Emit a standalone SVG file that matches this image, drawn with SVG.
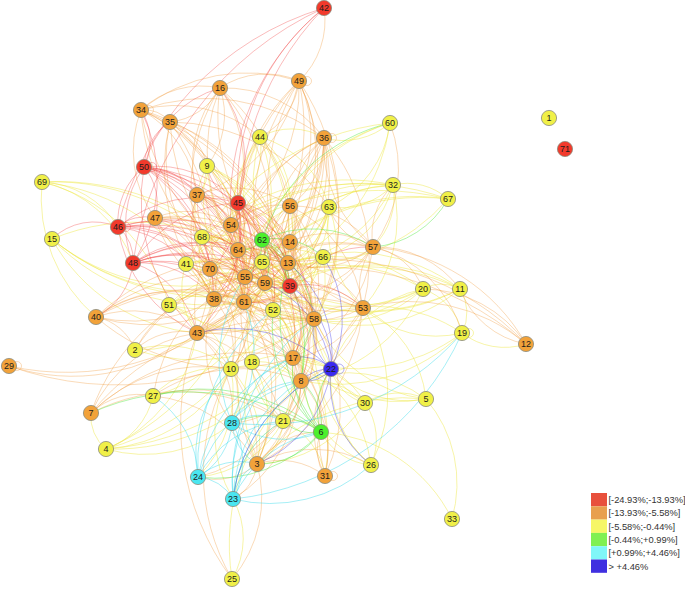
<svg xmlns="http://www.w3.org/2000/svg" width="685" height="589" viewBox="0 0 685 589">
<style>
.e path,.e circle{fill:none;stroke-width:1}
.y{stroke:#efe94a;stroke-opacity:.48}
.o{stroke:#f09c3c;stroke-opacity:.36}
.r{stroke:#f03838;stroke-opacity:.34}
.g{stroke:#48e838;stroke-opacity:.42}
.c{stroke:#3cdcec;stroke-opacity:.45}
.b{stroke:#3a30e8;stroke-opacity:.38}
.n circle{stroke:#8c8c7c;stroke-width:.8}
.n text{font-family:"Liberation Sans",Arial,sans-serif;font-size:9px;text-anchor:middle;fill:#1c1c1c}
.R circle{fill:#f23a2c}.O circle{fill:#f2a23a}.Y circle{fill:#f0f048}.G circle{fill:#4cf02c}.C circle{fill:#4ae6f0}.B circle{fill:#3a2af0}
.lg text{font-family:"Liberation Sans",Arial,sans-serif;font-size:9.3px;fill:#333}
</style>
<rect width="685" height="589" fill="#fff"/>
<g id="connectors" class="e">
<g class="y">
<path d="M42 182A123 123 0 0 1 133 263"/><path d="M42 182A94 94 0 0 1 118 227"/><path d="M42 182A176 176 0 0 1 169 305"/><path d="M42 182A241 241 0 0 1 245 277"/><path d="M96 317A157 157 0 0 1 42 182"/><path d="M42 182A219 219 0 0 1 214 299"/><path d="M42 182A263 263 0 0 1 265 283"/>
<path d="M245 277A208 208 0 0 1 52 239"/><path d="M265 283A231 231 0 0 1 52 239"/><path d="M290 286A257 257 0 0 1 52 239"/><path d="M52 239A219 219 0 0 1 262 262"/><path d="M197 333A183 183 0 0 1 52 239"/><path d="M244 302A217 217 0 0 1 52 239"/>
<path d="M207 166A33 33 0 0 1 197 195"/><path d="M207 166A96 96 0 0 1 238 250"/><path d="M207 166A96 96 0 0 1 262 240"/><path d="M207 166A118 118 0 0 1 262 262"/><path d="M207 166A129 129 0 0 1 288 263"/><path d="M210 269A104 104 0 0 1 207 166"/><path d="M207 166A126 126 0 0 1 245 277"/><path d="M244 302A151 151 0 0 1 207 166"/>
<path d="M260 137A75 75 0 0 1 238 203"/><path d="M238 250A122 122 0 0 1 260 137"/><path d="M260 137A146 146 0 0 1 245 277"/><path d="M265 283A148 148 0 0 1 260 137"/><path d="M260 137A137 137 0 0 1 288 263"/><path d="M260 137A81 81 0 0 1 290 206"/><path d="M260 137A98 98 0 0 1 329 207"/><path d="M290 286A161 161 0 0 1 260 137"/><path d="M260 137A178 178 0 0 1 273 310"/><path d="M260 137A64 64 0 0 1 324 138"/>
<path d="M390 123A72 72 0 0 1 324 138"/><path d="M186 264A260 260 0 0 1 390 123"/><path d="M262 262A190 190 0 0 1 390 123"/><path d="M390 123A108 108 0 0 1 329 207"/><path d="M245 277A212 212 0 0 1 390 123"/><path d="M390 123A181 181 0 0 1 288 263"/>
<path d="M393 185A61 61 0 0 1 448 199"/><path d="M393 185A73 73 0 0 1 329 207"/><path d="M393 185A100 100 0 0 1 323 257"/><path d="M186 264A238 238 0 0 1 393 185"/><path d="M202 237A212 212 0 0 1 393 185"/><path d="M393 185A70 70 0 0 1 373 247"/><path d="M262 262A162 162 0 0 1 393 185"/><path d="M238 250A181 181 0 0 1 393 185"/><path d="M245 277A185 185 0 0 1 393 185"/><path d="M393 185A136 136 0 0 1 288 263"/><path d="M393 185A135 135 0 0 1 363 308"/>
<path d="M186 264A288 288 0 0 1 448 199"/><path d="M202 237A261 261 0 0 1 448 199"/><path d="M262 262A211 211 0 0 1 448 199"/><path d="M245 277A234 234 0 0 1 448 199"/><path d="M448 199A186 186 0 0 1 288 263"/>
<path d="M329 207A89 89 0 0 1 262 262"/><path d="M329 207A102 102 0 0 1 265 283"/><path d="M329 207A112 112 0 0 1 245 277"/><path d="M329 207A72 72 0 0 1 288 263"/><path d="M329 207A95 95 0 0 1 290 286"/><path d="M329 207A118 118 0 0 1 314 319"/><path d="M363 308A115 115 0 0 1 329 207"/>
<path d="M323 257A63 63 0 0 1 262 262"/><path d="M323 257A68 68 0 0 1 265 283"/><path d="M323 257A86 86 0 0 1 245 277"/><path d="M323 257A37 37 0 0 1 288 263"/><path d="M323 257A45 45 0 0 1 290 286"/><path d="M314 319A66 66 0 0 1 323 257"/><path d="M323 257A73 73 0 0 1 273 310"/><path d="M323 257A113 113 0 0 1 293 358"/>
<path d="M202 237A59 59 0 0 1 245 277"/><path d="M202 237A41 41 0 0 1 238 250"/><path d="M202 237A81 81 0 0 1 265 283"/><path d="M202 237A70 70 0 0 1 262 262"/><path d="M214 299A67 67 0 0 1 202 237"/><path d="M202 237A82 82 0 0 1 244 302"/><path d="M202 237A96 96 0 0 1 288 263"/>
<path d="M186 264A64 64 0 0 1 245 277"/><path d="M186 264A73 73 0 0 1 244 302"/><path d="M186 264A87 87 0 0 1 265 283"/><path d="M262 262A77 77 0 0 1 186 264"/><path d="M186 264A46 46 0 0 1 214 299"/><path d="M197 333A73 73 0 0 1 186 264"/>
<path d="M262 262A52 52 0 0 1 273 310"/><path d="M262 262A78 78 0 0 1 314 319"/><path d="M262 262A127 127 0 0 1 301 381"/><path d="M244 302A47 47 0 0 1 262 262"/><path d="M262 262A101 101 0 0 1 293 358"/><path d="M262 262A39 39 0 0 1 290 286"/>
<path d="M273 310A43 43 0 0 1 314 319"/><path d="M273 310A82 82 0 0 1 301 381"/><path d="M273 310A56 56 0 0 1 293 358"/><path d="M257 464A160 160 0 0 1 273 310"/><path d="M273 310A115 115 0 0 1 283 421"/><path d="M273 310A82 82 0 0 1 331 369"/><path d="M273 310A187 187 0 0 1 325 476"/>
<path d="M169 305A39 39 0 0 1 197 333"/><path d="M169 305A87 87 0 0 1 245 277"/><path d="M265 283A105 105 0 0 1 169 305"/><path d="M169 305A47 47 0 0 1 214 299"/><path d="M314 319A151 151 0 0 1 169 305"/><path d="M169 305A76 76 0 0 1 244 302"/><path d="M169 305A89 89 0 0 1 231 369"/>
<path d="M423 289A37 37 0 0 1 460 289"/><path d="M423 289A60 60 0 0 1 462 333"/><path d="M423 289A183 183 0 0 1 245 277"/><path d="M265 283A160 160 0 0 1 423 289"/><path d="M423 289A121 121 0 0 1 314 319"/><path d="M288 263A145 145 0 0 1 423 289"/><path d="M423 289A159 159 0 0 1 301 381"/><path d="M423 289A134 134 0 0 1 290 286"/><path d="M331 369A124 124 0 0 1 423 289"/>
<path d="M460 289A44 44 0 0 1 462 333"/><path d="M460 289A220 220 0 0 1 245 277"/><path d="M290 286A171 171 0 0 1 460 289"/><path d="M288 263A182 182 0 0 1 460 289"/><path d="M460 289A197 197 0 0 1 265 283"/><path d="M460 289A158 158 0 0 1 314 319"/>
<path d="M526 344A70 70 0 0 1 462 333"/><path d="M462 333A180 180 0 0 1 301 381"/><path d="M314 319A154 154 0 0 1 462 333"/><path d="M462 333A179 179 0 0 1 293 358"/><path d="M462 333A109 109 0 0 1 363 308"/>
<path d="M231 369A105 105 0 0 1 257 464"/><path d="M233 499A131 131 0 0 1 231 369"/><path d="M231 369A121 121 0 0 1 198 477"/><path d="M231 369A54 54 0 0 1 232 423"/><path d="M231 369A103 103 0 0 1 314 319"/><path d="M231 369A75 75 0 0 1 301 381"/>
<path d="M252 362A104 104 0 0 1 257 464"/><path d="M252 362A82 82 0 0 1 331 369"/><path d="M252 362A57 57 0 0 1 301 381"/><path d="M283 421A71 71 0 0 1 252 362"/><path d="M252 362A84 84 0 0 1 265 283"/>
<path d="M283 421A53 53 0 0 1 257 464"/><path d="M283 421A42 42 0 0 1 321 432"/><path d="M233 499A98 98 0 0 1 283 421"/><path d="M283 421A107 107 0 0 1 198 477"/><path d="M283 421A72 72 0 0 1 325 476"/>
<path d="M365 403A63 63 0 0 1 426 399"/><path d="M365 403A48 48 0 0 1 331 369"/><path d="M301 381A73 73 0 0 1 365 403"/><path d="M365 403A64 64 0 0 1 371 465"/><path d="M365 403A134 134 0 0 1 257 464"/><path d="M293 358A90 90 0 0 1 365 403"/><path d="M365 403A104 104 0 0 1 314 319"/>
<path d="M426 399A107 107 0 0 1 331 369"/><path d="M301 381A132 132 0 0 1 426 399"/><path d="M426 399A130 130 0 0 1 452 519"/><path d="M426 399A144 144 0 0 1 314 319"/><path d="M363 308A116 116 0 0 1 426 399"/><path d="M426 399A149 149 0 0 1 293 358"/><path d="M257 464A195 195 0 0 1 426 399"/>
<path d="M371 465A112 112 0 0 1 331 369"/><path d="M371 465A63 63 0 0 1 321 432"/><path d="M293 358A138 138 0 0 1 371 465"/><path d="M371 465A169 169 0 0 1 314 319"/><path d="M363 308A160 160 0 0 1 371 465"/><path d="M371 465A112 112 0 0 1 301 381"/>
<path d="M321 432A157 157 0 0 1 452 519"/><path d="M233 499A80 80 0 0 1 232 579"/><path d="M232 579A222 222 0 0 1 301 381"/>
<path d="M153 396A72 72 0 0 1 106 449"/><path d="M231 369A155 155 0 0 1 106 449"/><path d="M232 423A138 138 0 0 1 106 449"/><path d="M288 263A260 260 0 0 1 106 449"/><path d="M245 277A235 235 0 0 1 106 449"/><path d="M314 319A262 262 0 0 1 106 449"/><path d="M197 333A152 152 0 0 1 106 449"/><path d="M293 358A222 222 0 0 1 106 449"/>
<path d="M106 449A42 42 0 0 1 91 413"/><path d="M135 350A104 104 0 0 1 231 369"/><path d="M265 283A157 157 0 0 1 135 350"/><path d="M314 319A191 191 0 0 1 135 350"/><path d="M153 396A89 89 0 0 1 231 369"/><path d="M265 283A157 157 0 0 1 153 396"/>
<path d="M329 207A120 120 0 0 1 244 302"/><path d="M214 299A150 150 0 0 1 329 207"/><path d="M323 257A90 90 0 0 1 244 302"/><path d="M197 333A150 150 0 0 1 323 257"/><path d="M210 269A115 115 0 0 1 323 257"/><path d="M207 166A145 145 0 0 1 290 286"/><path d="M314 319A185 185 0 0 1 207 166"/><path d="M244 302A170 170 0 0 1 260 137"/><path d="M202 237A105 105 0 0 1 290 286"/><path d="M314 319A135 135 0 0 1 202 237"/><path d="M186 264A107 107 0 0 1 290 286"/><path d="M314 319A140 140 0 0 1 186 264"/><path d="M169 305A123 123 0 0 1 290 286"/><path d="M262 262A95 95 0 0 1 197 333"/><path d="M423 289A180 180 0 0 1 244 302"/><path d="M244 302A220 220 0 0 1 460 289"/>
<circle cx="469" cy="333" r="4.5"/>
</g>
<g class="o">
<path d="M324 8A83 83 0 0 1 299 81"/><path d="M220 88A82 82 0 0 1 299 81"/><path d="M141 110A170 170 0 0 1 299 81"/><path d="M299 81A72 72 0 0 1 260 137"/><path d="M299 81A155 155 0 0 1 197 195"/><path d="M299 81A218 218 0 0 1 245 277"/><path d="M238 250A193 193 0 0 1 299 81"/><path d="M299 81A186 186 0 0 1 288 263"/><path d="M265 283A216 216 0 0 1 299 81"/><path d="M299 81A171 171 0 0 1 231 225"/><path d="M299 81A129 129 0 0 1 290 206"/><path d="M290 286A209 209 0 0 1 299 81"/><path d="M299 81A165 165 0 0 1 290 242"/>
<path d="M141 110A88 88 0 0 1 220 88"/><path d="M220 88A64 64 0 0 1 170 122"/><path d="M220 88A83 83 0 0 1 207 166"/><path d="M197 195A116 116 0 0 1 220 88"/><path d="M220 88A141 141 0 0 1 231 225"/><path d="M238 250A169 169 0 0 1 220 88"/><path d="M220 88A124 124 0 0 1 324 138"/><path d="M210 269A185 185 0 0 1 220 88"/><path d="M220 88A213 213 0 0 1 265 283"/>
<path d="M141 110A194 194 0 0 1 324 138"/><path d="M141 110A34 34 0 0 1 170 122"/><path d="M141 110A107 107 0 0 1 197 195"/><path d="M155 218A114 114 0 0 1 141 110"/><path d="M141 110A151 151 0 0 1 231 225"/><path d="M141 110A212 212 0 0 1 288 263"/><path d="M141 110A278 278 0 0 1 314 319"/><path d="M245 277A209 209 0 0 1 141 110"/><path d="M141 110A130 130 0 0 1 260 137"/>
<path d="M170 122A222 222 0 0 1 197 333"/><path d="M170 122A185 185 0 0 1 245 277"/><path d="M214 299A195 195 0 0 1 170 122"/><path d="M170 122A59 59 0 0 1 207 166"/><path d="M210 269A163 163 0 0 1 170 122"/><path d="M170 122A210 210 0 0 1 244 302"/><path d="M170 122A193 193 0 0 1 329 207"/><path d="M265 283A199 199 0 0 1 170 122"/>
<path d="M324 138A82 82 0 0 1 290 206"/><path d="M290 242A118 118 0 0 1 324 138"/><path d="M324 138A139 139 0 0 1 288 263"/><path d="M324 138A162 162 0 0 1 290 286"/><path d="M314 319A185 185 0 0 1 324 138"/><path d="M324 138A186 186 0 0 1 363 308"/><path d="M324 138A171 171 0 0 1 245 277"/><path d="M265 283A169 169 0 0 1 324 138"/><path d="M324 138A149 149 0 0 1 262 262"/><path d="M324 138A232 232 0 0 1 293 358"/><path d="M238 250A146 146 0 0 1 324 138"/><path d="M373 247A129 129 0 0 1 324 138"/><path d="M324 138A128 128 0 0 1 231 225"/>
<path d="M197 195A46 46 0 0 1 231 225"/><path d="M197 195A101 101 0 0 1 245 277"/><path d="M197 195A71 71 0 0 1 238 250"/><path d="M210 269A79 79 0 0 1 197 195"/><path d="M214 299A111 111 0 0 1 197 195"/><path d="M197 195A126 126 0 0 1 244 302"/><path d="M197 195A115 115 0 0 1 265 283"/><path d="M197 195A112 112 0 0 1 290 242"/><path d="M288 263A118 118 0 0 1 197 195"/><path d="M197 195A97 97 0 0 1 290 206"/><path d="M197 195A83 83 0 0 1 262 240"/><path d="M197 195A129 129 0 0 1 290 286"/>
<path d="M155 218A114 114 0 0 1 245 277"/><path d="M155 218A96 96 0 0 1 238 250"/><path d="M155 218A75 75 0 0 1 210 269"/><path d="M265 283A136 136 0 0 1 155 218"/><path d="M155 218A105 105 0 0 1 214 299"/><path d="M155 218A151 151 0 0 1 288 263"/><path d="M155 218A79 79 0 0 1 231 225"/><path d="M244 302A123 123 0 0 1 155 218"/>
<path d="M231 225A28 28 0 0 1 238 250"/><path d="M231 225A58 58 0 0 1 245 277"/><path d="M231 225A72 72 0 0 1 265 283"/><path d="M231 225A85 85 0 0 1 290 286"/><path d="M231 225A66 66 0 0 1 290 242"/><path d="M288 263A72 72 0 0 1 231 225"/><path d="M231 225A67 67 0 0 1 290 206"/><path d="M231 225A102 102 0 0 1 273 310"/><path d="M231 225A127 127 0 0 1 314 319"/><path d="M293 358A158 158 0 0 1 231 225"/>
<path d="M290 206A89 89 0 0 1 245 277"/><path d="M290 206A36 36 0 0 1 290 242"/><path d="M288 263A58 58 0 0 1 290 206"/><path d="M290 206A80 80 0 0 1 290 286"/><path d="M290 206A123 123 0 0 1 314 319"/><path d="M290 206A131 131 0 0 1 363 308"/><path d="M265 283A87 87 0 0 1 290 206"/><path d="M290 206A153 153 0 0 1 293 358"/><path d="M290 206A99 99 0 0 1 373 247"/>
<path d="M290 242A22 22 0 0 1 288 263"/><path d="M290 242A59 59 0 0 1 245 277"/><path d="M238 250A55 55 0 0 1 290 242"/><path d="M290 242A51 51 0 0 1 265 283"/><path d="M290 242A85 85 0 0 1 373 247"/><path d="M290 242A87 87 0 0 1 314 319"/><path d="M290 242A117 117 0 0 1 293 358"/><path d="M363 308A99 99 0 0 1 290 242"/>
<path d="M288 263A49 49 0 0 1 245 277"/><path d="M288 263A66 66 0 0 1 314 319"/><path d="M288 263A93 93 0 0 1 363 308"/><path d="M373 247A91 91 0 0 1 288 263"/><path d="M288 263A97 97 0 0 1 293 358"/><path d="M288 263A123 123 0 0 1 301 381"/><path d="M244 302A60 60 0 0 1 288 263"/>
<path d="M238 250A30 30 0 0 1 245 277"/><path d="M238 250A44 44 0 0 1 265 283"/><path d="M238 250A36 36 0 0 1 210 269"/><path d="M238 250A59 59 0 0 1 214 299"/><path d="M238 250A54 54 0 0 1 244 302"/><path d="M238 250A66 66 0 0 1 290 286"/><path d="M238 250A99 99 0 0 1 197 333"/><path d="M238 250A55 55 0 0 1 288 263"/>
<path d="M210 269A38 38 0 0 1 245 277"/><path d="M210 269A31 31 0 0 1 214 299"/><path d="M210 269A47 47 0 0 1 244 302"/><path d="M265 283A61 61 0 0 1 210 269"/><path d="M210 269A69 69 0 0 1 197 333"/><path d="M210 269A87 87 0 0 1 290 286"/><path d="M210 269A108 108 0 0 1 231 369"/><path d="M210 269A80 80 0 0 1 288 263"/>
<path d="M245 277A22 22 0 0 1 265 283"/><path d="M245 277A25 25 0 0 1 244 302"/><path d="M245 277A40 40 0 0 1 214 299"/><path d="M245 277A44 44 0 0 1 273 310"/><path d="M245 277A86 86 0 0 1 314 319"/><path d="M245 277A100 100 0 0 1 293 358"/><path d="M301 381A126 126 0 0 1 245 277"/><path d="M245 277A75 75 0 0 1 197 333"/><path d="M245 277A140 140 0 0 1 373 247"/><path d="M363 308A130 130 0 0 1 245 277"/><path d="M245 277A98 98 0 0 1 231 369"/><path d="M245 277A192 192 0 0 1 257 464"/><path d="M283 421A159 159 0 0 1 245 277"/>
<path d="M265 283A29 29 0 0 1 244 302"/><path d="M265 283A30 30 0 0 1 273 310"/><path d="M265 283A63 63 0 0 1 314 319"/><path d="M265 283A86 86 0 0 1 293 358"/><path d="M265 283A112 112 0 0 1 301 381"/><path d="M257 464A184 184 0 0 1 265 283"/><path d="M265 283A108 108 0 0 1 363 308"/><path d="M265 283A88 88 0 0 1 197 333"/>
<path d="M244 302A31 31 0 0 1 214 299"/><path d="M244 302A32 32 0 0 1 273 310"/><path d="M244 302A76 76 0 0 1 293 358"/><path d="M244 302A102 102 0 0 1 301 381"/><path d="M244 302A59 59 0 0 1 197 333"/><path d="M244 302A167 167 0 0 1 257 464"/><path d="M244 302A77 77 0 0 1 314 319"/><path d="M244 302A72 72 0 0 1 231 369"/>
<path d="M214 299A41 41 0 0 1 197 333"/><path d="M214 299A77 77 0 0 1 231 369"/><path d="M214 299A103 103 0 0 1 293 358"/><path d="M214 299A120 120 0 0 1 301 381"/><path d="M214 299A63 63 0 0 1 273 310"/><path d="M96 317A125 125 0 0 1 214 299"/><path d="M232 423A131 131 0 0 1 214 299"/>
<path d="M96 317A107 107 0 0 1 197 333"/><path d="M245 277A165 165 0 0 1 96 317"/><path d="M96 317A219 219 0 0 1 314 319"/><path d="M96 317A214 214 0 0 1 288 263"/><path d="M265 283A183 183 0 0 1 96 317"/><path d="M96 317A154 154 0 0 1 244 302"/>
<path d="M197 333A50 50 0 0 1 231 369"/><path d="M197 333A106 106 0 0 1 293 358"/><path d="M197 333A123 123 0 0 1 301 381"/><path d="M197 333A155 155 0 0 1 257 464"/><path d="M197 333A123 123 0 0 1 314 319"/><path d="M232 579A260 260 0 0 1 197 333"/><path d="M197 333A104 104 0 0 1 232 423"/><path d="M135 350A69 69 0 0 1 197 333"/><path d="M197 333A121 121 0 0 1 283 421"/>
<path d="M314 319A47 47 0 0 1 293 358"/><path d="M314 319A67 67 0 0 1 301 381"/><path d="M314 319A53 53 0 0 1 363 308"/><path d="M314 319A168 168 0 0 1 257 464"/><path d="M314 319A161 161 0 0 1 325 476"/><path d="M314 319A114 114 0 0 1 283 421"/>
<path d="M363 308A65 65 0 0 1 373 247"/><path d="M363 308A98 98 0 0 1 301 381"/><path d="M363 308A198 198 0 0 1 257 464"/><path d="M363 308A90 90 0 0 1 293 358"/><path d="M363 308A177 177 0 0 1 526 344"/><path d="M325 476A183 183 0 0 1 363 308"/>
<path d="M373 247A70 70 0 0 1 393 185"/><path d="M373 247A192 192 0 0 1 526 344"/><path d="M373 247A104 104 0 0 1 460 289"/><path d="M373 247A67 67 0 0 1 423 289"/><path d="M373 247A54 54 0 0 1 323 257"/><path d="M373 247A60 60 0 0 1 329 207"/><path d="M373 247A143 143 0 0 1 293 358"/><path d="M373 247A123 123 0 0 1 462 333"/><path d="M390 123A131 131 0 0 1 373 247"/>
<path d="M293 358A26 26 0 0 1 301 381"/><path d="M293 358A120 120 0 0 1 257 464"/><path d="M293 358A131 131 0 0 1 325 476"/><path d="M293 358A67 67 0 0 1 283 421"/><path d="M293 358A85 85 0 0 1 321 432"/>
<path d="M301 381A101 101 0 0 1 257 464"/><path d="M301 381A105 105 0 0 1 325 476"/><path d="M301 381A47 47 0 0 1 283 421"/><path d="M301 381A86 86 0 0 1 232 423"/><path d="M301 381A144 144 0 0 1 198 477"/><path d="M301 381A143 143 0 0 1 233 499"/>
<path d="M257 464A73 73 0 0 1 325 476"/><path d="M257 464A64 64 0 0 1 198 477"/><path d="M257 464A45 45 0 0 1 233 499"/><path d="M257 464A53 53 0 0 1 283 421"/><path d="M232 423A51 51 0 0 1 257 464"/><path d="M257 464A114 114 0 0 1 371 465"/><path d="M257 464A77 77 0 0 1 321 432"/><path d="M257 464A125 125 0 0 1 232 579"/>
<path d="M325 476A46 46 0 0 1 321 432"/><path d="M325 476A109 109 0 0 1 331 369"/>
<path d="M526 344A88 88 0 0 1 460 289"/><path d="M288 263A270 270 0 0 1 526 344"/><path d="M245 277A308 308 0 0 1 526 344"/><path d="M423 289A125 125 0 0 1 526 344"/>
<path d="M314 319A324 324 0 0 1 9 366"/><path d="M197 333A201 201 0 0 1 9 366"/><path d="M244 302A260 260 0 0 1 9 366"/>
<path d="M91 413A69 69 0 0 1 153 396"/><path d="M91 413A138 138 0 0 1 197 333"/><path d="M91 413A261 261 0 0 1 314 319"/><path d="M91 413A208 208 0 0 1 245 277"/><path d="M91 413A195 195 0 0 1 283 421"/><path d="M91 413A158 158 0 0 1 231 369"/><path d="M91 413A224 224 0 0 1 293 358"/>
<path d="M153 396A131 131 0 0 1 257 464"/><path d="M153 396A140 140 0 0 1 283 421"/><path d="M153 396A156 156 0 0 1 245 277"/><path d="M153 396A154 154 0 0 1 301 381"/>
<path d="M135 350A139 139 0 0 1 245 277"/><path d="M96 317A52 52 0 0 1 135 350"/><path d="M135 350A188 188 0 0 1 288 263"/><path d="M232 579A210 210 0 0 1 231 369"/>
<path d="M299 81A238 238 0 0 1 314 319"/><path d="M244 302A227 227 0 0 1 299 81"/><path d="M220 88A210 210 0 0 1 290 286"/><path d="M288 263A188 188 0 0 1 220 88"/><path d="M141 110A215 215 0 0 1 265 283"/><path d="M290 286A230 230 0 0 1 141 110"/><path d="M170 122A185 185 0 0 1 288 263"/><path d="M324 138A184 184 0 0 1 244 302"/><path d="M214 299A195 195 0 0 1 324 138"/><path d="M197 195A170 170 0 0 1 314 319"/><path d="M293 358A190 190 0 0 1 197 195"/><path d="M155 218A156 156 0 0 1 290 286"/><path d="M314 319A190 190 0 0 1 155 218"/><path d="M96 317A200 200 0 0 1 290 286"/><path d="M293 358A205 205 0 0 1 96 317"/><path d="M197 333A175 175 0 0 1 363 308"/><path d="M373 247A200 200 0 0 1 197 333"/><path d="M214 299A105 105 0 0 1 314 319"/><path d="M290 286A80 80 0 0 1 214 299"/><path d="M210 269A115 115 0 0 1 314 319"/><path d="M293 358A120 120 0 0 1 210 269"/><path d="M373 247A145 145 0 0 1 244 302"/><path d="M214 299A170 170 0 0 1 373 247"/><path d="M363 308A120 120 0 0 1 244 302"/><path d="M214 299A155 155 0 0 1 363 308"/><path d="M197 333A115 115 0 0 1 231 225"/><path d="M290 206A160 160 0 0 1 197 333"/><path d="M244 302A105 105 0 0 1 290 206"/><path d="M290 242A130 130 0 0 1 197 333"/><path d="M214 299A100 100 0 0 1 290 242"/>
<circle cx="307" cy="81" r="4.5"/><circle cx="332" cy="138" r="4.5"/><circle cx="149" cy="110" r="4.5"/><circle cx="17" cy="366" r="4.5"/><circle cx="333" cy="476" r="4.5"/>
</g>
<g class="g">
<path d="M262 240A179 179 0 0 1 390 123"/><path d="M262 240A44 44 0 0 1 245 277"/><path d="M262 240A28 28 0 0 1 238 250"/><path d="M262 240A44 44 0 0 1 265 283"/><path d="M262 240A22 22 0 0 1 262 262"/><path d="M262 240A114 114 0 0 1 373 247"/><path d="M262 240A35 35 0 0 1 288 263"/><path d="M262 240A57 57 0 0 1 290 286"/><path d="M262 240A68 68 0 0 1 323 257"/><path d="M262 240A100 100 0 0 1 314 319"/><path d="M262 240A157 157 0 0 1 301 381"/>
<path d="M448 199A94 94 0 0 1 373 247"/>
<path d="M321 432A67 67 0 0 1 331 369"/><path d="M301 381A59 59 0 0 1 321 432"/><path d="M321 432A85 85 0 0 1 293 358"/><path d="M321 432A42 42 0 0 1 283 421"/><path d="M321 432A77 77 0 0 1 257 464"/><path d="M232 423A93 93 0 0 1 321 432"/><path d="M91 413A238 238 0 0 1 321 432"/><path d="M321 432A141 141 0 0 1 198 477"/><path d="M321 432A116 116 0 0 1 314 319"/><path d="M321 432A182 182 0 0 1 288 263"/><path d="M321 432A141 141 0 0 1 273 310"/><path d="M153 396A182 182 0 0 1 321 432"/>
</g>
<g class="c">
<path d="M232 423A68 68 0 0 1 198 477"/><path d="M232 423A76 76 0 0 1 233 499"/><path d="M257 464A51 51 0 0 1 232 423"/><path d="M321 432A93 93 0 0 1 232 423"/><path d="M232 423A86 86 0 0 1 301 381"/><path d="M232 423A89 89 0 0 1 293 358"/><path d="M232 423A151 151 0 0 1 245 277"/><path d="M232 423A52 52 0 0 1 283 421"/><path d="M244 302A126 126 0 0 1 232 423"/><path d="M462 333A266 266 0 0 1 232 423"/>
<path d="M198 477A44 44 0 0 1 233 499"/><path d="M198 477A64 64 0 0 1 257 464"/><path d="M198 477A144 144 0 0 1 301 381"/><path d="M198 477A107 107 0 0 1 283 421"/><path d="M198 477A157 157 0 0 1 293 358"/><path d="M198 477A121 121 0 0 1 231 369"/><path d="M153 396A99 99 0 0 1 198 477"/><path d="M198 477A197 197 0 0 1 273 310"/>
<path d="M233 499A45 45 0 0 1 257 464"/><path d="M233 499A143 143 0 0 1 301 381"/><path d="M233 499A157 157 0 0 1 293 358"/><path d="M233 499A98 98 0 0 1 283 421"/><path d="M371 465A152 152 0 0 1 233 499"/><path d="M462 333A283 283 0 0 1 233 499"/><path d="M233 499A115 115 0 0 1 321 432"/><path d="M233 499A163 163 0 0 1 331 369"/><path d="M233 499A202 202 0 0 1 314 319"/>
</g>
<g class="r">
<path d="M238 203A229 229 0 0 1 324 8"/><path d="M133 263A331 331 0 0 1 324 8"/><path d="M245 277A301 301 0 0 1 324 8"/><path d="M118 227A301 301 0 0 1 324 8"/><path d="M231 225A254 254 0 0 1 324 8"/>
<path d="M141 110A57 57 0 0 1 144 167"/><path d="M144 167A55 55 0 0 1 170 122"/><path d="M118 227A70 70 0 0 1 144 167"/><path d="M133 263A100 100 0 0 1 144 167"/><path d="M144 167A55 55 0 0 1 155 218"/><path d="M144 167A64 64 0 0 1 197 195"/><path d="M144 167A108 108 0 0 1 238 203"/><path d="M144 167A150 150 0 0 1 245 277"/><path d="M144 167A128 128 0 0 1 210 269"/><path d="M144 167A131 131 0 0 1 238 250"/><path d="M144 167A160 160 0 0 1 214 299"/><path d="M144 167A175 175 0 0 1 244 302"/><path d="M144 167A167 167 0 0 1 265 283"/><path d="M144 167A182 182 0 0 1 288 263"/><path d="M197 333A187 187 0 0 1 144 167"/><path d="M144 167A110 110 0 0 1 231 225"/><path d="M144 167A194 194 0 0 1 290 286"/><path d="M144 167A109 109 0 0 1 220 88"/>
<path d="M52 239A60 60 0 0 1 118 227"/><path d="M118 227A42 42 0 0 1 133 263"/><path d="M118 227A41 41 0 0 1 155 218"/><path d="M118 227A109 109 0 0 1 210 269"/><path d="M118 227A147 147 0 0 1 245 277"/><path d="M118 227A125 125 0 0 1 214 299"/><path d="M118 227A169 169 0 0 1 265 283"/><path d="M118 227A156 156 0 0 1 244 302"/><path d="M118 227A129 129 0 0 1 238 250"/><path d="M118 227A130 130 0 0 1 238 203"/><path d="M118 227A196 196 0 0 1 290 286"/><path d="M197 333A138 138 0 0 1 118 227"/><path d="M118 227A184 184 0 0 1 288 263"/>
<path d="M141 110A156 156 0 0 1 133 263"/><path d="M133 263A69 69 0 0 1 96 317"/><path d="M133 263A118 118 0 0 1 245 277"/><path d="M133 263A140 140 0 0 1 265 283"/><path d="M133 263A127 127 0 0 1 244 302"/><path d="M133 263A95 95 0 0 1 214 299"/><path d="M133 263A166 166 0 0 1 290 286"/><path d="M133 263A110 110 0 0 1 238 250"/><path d="M133 263A129 129 0 0 1 238 203"/><path d="M133 263A96 96 0 0 1 197 333"/><path d="M133 263A129 129 0 0 1 262 262"/><path d="M133 263A155 155 0 0 1 288 263"/><path d="M133 263A159 159 0 0 1 273 310"/>
<path d="M220 88A122 122 0 0 1 238 203"/><path d="M238 203A50 50 0 0 1 207 166"/><path d="M238 203A77 77 0 0 1 245 277"/><path d="M238 203A91 91 0 0 1 265 283"/><path d="M238 203A104 104 0 0 1 290 286"/><path d="M238 203A101 101 0 0 1 244 302"/><path d="M238 203A106 106 0 0 1 214 299"/><path d="M238 203A77 77 0 0 1 210 269"/><path d="M238 203A47 47 0 0 1 238 250"/><path d="M238 203A25 25 0 0 1 231 225"/><path d="M238 203A68 68 0 0 1 290 242"/><path d="M238 203A80 80 0 0 1 288 263"/><path d="M238 203A121 121 0 0 1 273 310"/><path d="M238 203A146 146 0 0 1 314 319"/><path d="M238 203A146 146 0 0 1 197 333"/><path d="M238 203A177 177 0 0 1 293 358"/>
<path d="M290 286A42 42 0 0 1 314 319"/><path d="M290 286A23 23 0 0 1 288 263"/><path d="M290 286A26 26 0 0 1 265 283"/><path d="M290 286A49 49 0 0 1 245 277"/><path d="M290 286A52 52 0 0 1 244 302"/><path d="M290 286A73 73 0 0 1 293 358"/><path d="M290 286A99 99 0 0 1 301 381"/><path d="M290 286A82 82 0 0 1 363 308"/><path d="M290 286A99 99 0 0 1 373 247"/>
<circle cx="152" cy="167" r="4.5"/><circle cx="126" cy="227" r="4.5"/>
</g>
<g class="b">
<path d="M331 369A32 32 0 0 1 301 381"/><path d="M301 381A40 40 0 0 1 331 369"/><path d="M290 286A93 93 0 0 1 331 369"/><path d="M331 369A53 53 0 0 1 314 319"/><path d="M371 465A104 104 0 0 1 331 369"/><path d="M233 499A163 163 0 0 1 331 369"/><path d="M197 333A139 139 0 0 1 331 369"/><path d="M288 263A114 114 0 0 1 331 369"/><path d="M331 369A120 120 0 0 1 257 464"/><path d="M293 358A40 40 0 0 1 331 369"/><path d="M265 283A108 108 0 0 1 331 369"/><path d="M323 257A112 112 0 0 1 331 369"/>
<circle cx="339" cy="369" r="5"/>
</g>
</g>
<g id="n1" class="n Y"><circle cx="549" cy="118" r="7.6"/><text x="549" y="121.2">1</text></g>
<g id="n2" class="n Y"><circle cx="135" cy="350" r="7.6"/><text x="135" y="353.2">2</text></g>
<g id="n3" class="n O"><circle cx="257" cy="464" r="7.6"/><text x="257" y="467.2">3</text></g>
<g id="n4" class="n Y"><circle cx="106" cy="449" r="7.6"/><text x="106" y="452.2">4</text></g>
<g id="n5" class="n Y"><circle cx="426" cy="399" r="7.6"/><text x="426" y="402.2">5</text></g>
<g id="n6" class="n G"><circle cx="321" cy="432" r="7.6"/><text x="321" y="435.2">6</text></g>
<g id="n7" class="n O"><circle cx="91" cy="413" r="7.6"/><text x="91" y="416.2">7</text></g>
<g id="n8" class="n O"><circle cx="301" cy="381" r="7.6"/><text x="301" y="384.2">8</text></g>
<g id="n9" class="n Y"><circle cx="207" cy="166" r="7.6"/><text x="207" y="169.2">9</text></g>
<g id="n10" class="n Y"><circle cx="231" cy="369" r="7.6"/><text x="231" y="372.2">10</text></g>
<g id="n11" class="n Y"><circle cx="460" cy="289" r="7.6"/><text x="460" y="292.2">11</text></g>
<g id="n12" class="n O"><circle cx="526" cy="344" r="7.6"/><text x="526" y="347.2">12</text></g>
<g id="n13" class="n O"><circle cx="288" cy="263" r="7.6"/><text x="288" y="266.2">13</text></g>
<g id="n14" class="n O"><circle cx="290" cy="242" r="7.6"/><text x="290" y="245.2">14</text></g>
<g id="n15" class="n Y"><circle cx="52" cy="239" r="7.6"/><text x="52" y="242.2">15</text></g>
<g id="n16" class="n O"><circle cx="220" cy="88" r="7.6"/><text x="220" y="91.2">16</text></g>
<g id="n17" class="n O"><circle cx="293" cy="358" r="7.6"/><text x="293" y="361.2">17</text></g>
<g id="n18" class="n Y"><circle cx="252" cy="362" r="7.6"/><text x="252" y="365.2">18</text></g>
<g id="n19" class="n Y"><circle cx="462" cy="333" r="7.6"/><text x="462" y="336.2">19</text></g>
<g id="n20" class="n Y"><circle cx="423" cy="289" r="7.6"/><text x="423" y="292.2">20</text></g>
<g id="n21" class="n Y"><circle cx="283" cy="421" r="7.6"/><text x="283" y="424.2">21</text></g>
<g id="n22" class="n B"><circle cx="331" cy="369" r="7.6"/><text x="331" y="372.2">22</text></g>
<g id="n23" class="n C"><circle cx="233" cy="499" r="7.6"/><text x="233" y="502.2">23</text></g>
<g id="n24" class="n C"><circle cx="198" cy="477" r="7.6"/><text x="198" y="480.2">24</text></g>
<g id="n25" class="n Y"><circle cx="232" cy="579" r="7.6"/><text x="232" y="582.2">25</text></g>
<g id="n26" class="n Y"><circle cx="371" cy="465" r="7.6"/><text x="371" y="468.2">26</text></g>
<g id="n27" class="n Y"><circle cx="153" cy="396" r="7.6"/><text x="153" y="399.2">27</text></g>
<g id="n28" class="n C"><circle cx="232" cy="423" r="7.6"/><text x="232" y="426.2">28</text></g>
<g id="n29" class="n O"><circle cx="9" cy="366" r="7.6"/><text x="9" y="369.2">29</text></g>
<g id="n30" class="n Y"><circle cx="365" cy="403" r="7.6"/><text x="365" y="406.2">30</text></g>
<g id="n31" class="n O"><circle cx="325" cy="476" r="7.6"/><text x="325" y="479.2">31</text></g>
<g id="n32" class="n Y"><circle cx="393" cy="185" r="7.6"/><text x="393" y="188.2">32</text></g>
<g id="n33" class="n Y"><circle cx="452" cy="519" r="7.6"/><text x="452" y="522.2">33</text></g>
<g id="n34" class="n O"><circle cx="141" cy="110" r="7.6"/><text x="141" y="113.2">34</text></g>
<g id="n35" class="n O"><circle cx="170" cy="122" r="7.6"/><text x="170" y="125.2">35</text></g>
<g id="n36" class="n O"><circle cx="324" cy="138" r="7.6"/><text x="324" y="141.2">36</text></g>
<g id="n37" class="n O"><circle cx="197" cy="195" r="7.6"/><text x="197" y="198.2">37</text></g>
<g id="n38" class="n O"><circle cx="214" cy="299" r="7.6"/><text x="214" y="302.2">38</text></g>
<g id="n39" class="n R"><circle cx="290" cy="286" r="7.6"/><text x="290" y="289.2">39</text></g>
<g id="n40" class="n O"><circle cx="96" cy="317" r="7.6"/><text x="96" y="320.2">40</text></g>
<g id="n41" class="n Y"><circle cx="186" cy="264" r="7.6"/><text x="186" y="267.2">41</text></g>
<g id="n42" class="n R"><circle cx="324" cy="8" r="7.6"/><text x="324" y="11.2">42</text></g>
<g id="n43" class="n O"><circle cx="197" cy="333" r="7.6"/><text x="197" y="336.2">43</text></g>
<g id="n44" class="n Y"><circle cx="260" cy="137" r="7.6"/><text x="260" y="140.2">44</text></g>
<g id="n45" class="n R"><circle cx="238" cy="203" r="7.6"/><text x="238" y="206.2">45</text></g>
<g id="n46" class="n R"><circle cx="118" cy="227" r="7.6"/><text x="118" y="230.2">46</text></g>
<g id="n47" class="n O"><circle cx="155" cy="218" r="7.6"/><text x="155" y="221.2">47</text></g>
<g id="n48" class="n R"><circle cx="133" cy="263" r="7.6"/><text x="133" y="266.2">48</text></g>
<g id="n49" class="n O"><circle cx="299" cy="81" r="7.6"/><text x="299" y="84.2">49</text></g>
<g id="n50" class="n R"><circle cx="144" cy="167" r="7.6"/><text x="144" y="170.2">50</text></g>
<g id="n51" class="n Y"><circle cx="169" cy="305" r="7.6"/><text x="169" y="308.2">51</text></g>
<g id="n52" class="n Y"><circle cx="273" cy="310" r="7.6"/><text x="273" y="313.2">52</text></g>
<g id="n53" class="n O"><circle cx="363" cy="308" r="7.6"/><text x="363" y="311.2">53</text></g>
<g id="n54" class="n O"><circle cx="231" cy="225" r="7.6"/><text x="231" y="228.2">54</text></g>
<g id="n55" class="n O"><circle cx="245" cy="277" r="7.6"/><text x="245" y="280.2">55</text></g>
<g id="n56" class="n O"><circle cx="290" cy="206" r="7.6"/><text x="290" y="209.2">56</text></g>
<g id="n57" class="n O"><circle cx="373" cy="247" r="7.6"/><text x="373" y="250.2">57</text></g>
<g id="n58" class="n O"><circle cx="314" cy="319" r="7.6"/><text x="314" y="322.2">58</text></g>
<g id="n59" class="n O"><circle cx="265" cy="283" r="7.6"/><text x="265" y="286.2">59</text></g>
<g id="n60" class="n Y"><circle cx="390" cy="123" r="7.6"/><text x="390" y="126.2">60</text></g>
<g id="n61" class="n O"><circle cx="244" cy="302" r="7.6"/><text x="244" y="305.2">61</text></g>
<g id="n62" class="n G"><circle cx="262" cy="240" r="7.6"/><text x="262" y="243.2">62</text></g>
<g id="n63" class="n Y"><circle cx="329" cy="207" r="7.6"/><text x="329" y="210.2">63</text></g>
<g id="n64" class="n O"><circle cx="238" cy="250" r="7.6"/><text x="238" y="253.2">64</text></g>
<g id="n65" class="n Y"><circle cx="262" cy="262" r="7.6"/><text x="262" y="265.2">65</text></g>
<g id="n66" class="n Y"><circle cx="323" cy="257" r="7.6"/><text x="323" y="260.2">66</text></g>
<g id="n67" class="n Y"><circle cx="448" cy="199" r="7.6"/><text x="448" y="202.2">67</text></g>
<g id="n68" class="n Y"><circle cx="202" cy="237" r="7.6"/><text x="202" y="240.2">68</text></g>
<g id="n69" class="n Y"><circle cx="42" cy="182" r="7.6"/><text x="42" y="185.2">69</text></g>
<g id="n70" class="n O"><circle cx="210" cy="269" r="7.6"/><text x="210" y="272.2">70</text></g>
<g id="n71" class="n R"><circle cx="565" cy="149" r="7.6"/><text x="565" y="152.2">71</text></g>
<g id="legend" class="lg">
<rect x="591" y="493" width="16" height="13.3" fill="#e8503c"/>
<rect x="591" y="506.3" width="16" height="13.3" fill="#e8a04e"/>
<rect x="591" y="519.6" width="16" height="13.3" fill="#f6f666"/>
<rect x="591" y="532.9" width="16" height="13.3" fill="#80f052"/>
<rect x="591" y="546.2" width="16" height="13.3" fill="#80f6f8"/>
<rect x="591" y="559.5" width="16" height="13.3" fill="#4030e0"/>
<text x="608.5" y="503">[-24.93%;-13.93%]</text>
<text x="608.5" y="516.3">[-13.93%;-5.58%]</text>
<text x="608.5" y="529.6">[-5.58%;-0.44%]</text>
<text x="608.5" y="542.9">[-0.44%;+0.99%]</text>
<text x="608.5" y="556.2">[+0.99%;+4.46%]</text>
<text x="608.5" y="569.5">&gt; +4.46%</text>
</g>
</svg>
